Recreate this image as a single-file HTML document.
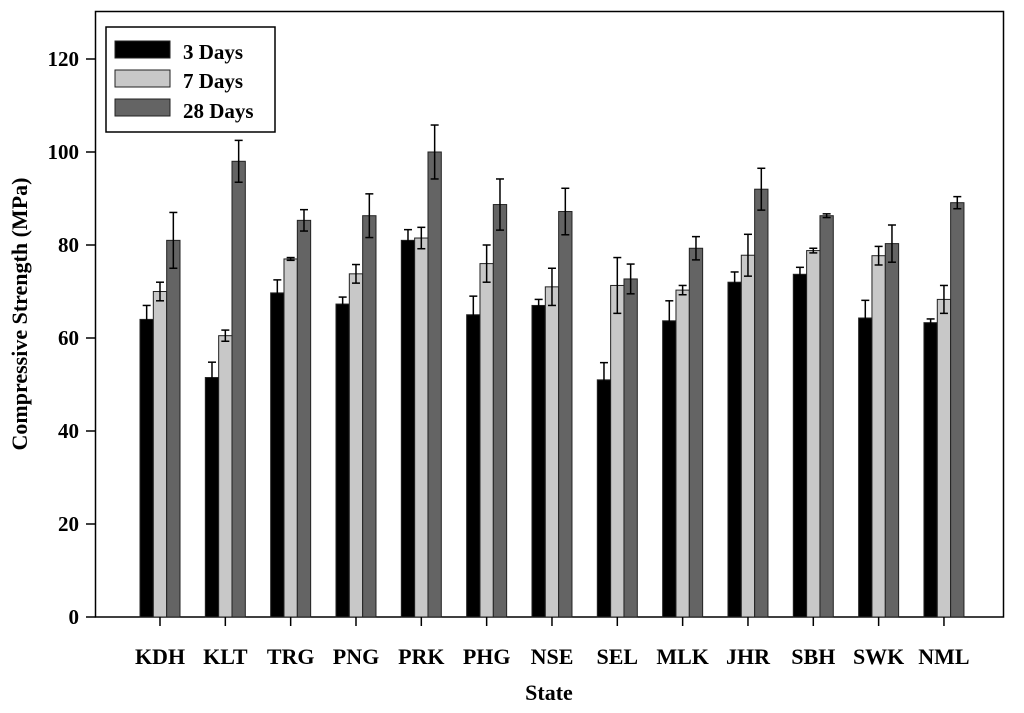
<!DOCTYPE html>
<html><head><meta charset="utf-8"><style>
body{margin:0;background:#fff;}
svg{display:block;font-family:"Liberation Serif",serif;font-weight:bold;}
</style></head><body>
<svg id="chart" width="1024" height="713" viewBox="0 0 1024 713" xmlns="http://www.w3.org/2000/svg">
<rect x="95.5" y="11.5" width="908" height="605.5" fill="none" stroke="#000" stroke-width="1.5"/>
<g id="marks"></g>
<g id="axes"></g>
<g>
<rect x="106" y="27" width="169" height="105" fill="#fff" stroke="#000" stroke-width="1.5"/>
<rect x="115" y="41" width="55" height="17" fill="#000" stroke="#222"/>
<text x="183" y="59" font-size="21">3 Days</text>
<rect x="115" y="70" width="55" height="17" fill="#c8c8c8" stroke="#222"/>
<text x="183" y="88" font-size="21">7 Days</text>
<rect x="115" y="99" width="55" height="17" fill="#646464" stroke="#222"/>
<text x="183" y="118" font-size="21">28 Days</text>
</g>
<text transform="translate(27,314) rotate(-90)" text-anchor="middle" font-size="22">Compressive Strength (MPa)</text>
<text x="549" y="700" text-anchor="middle" font-size="22">State</text>
</svg>
<script>
const categories=["KDH","KLT","TRG","PNG","PRK","PHG","NSE","SEL","MLK","JHR","SBH","SWK","NML"];
const days3=[64,51.5,69.7,67.3,81,65,67,51,63.7,72,73.7,64.3,63.3];
const days3Err=[3,3.3,2.8,1.5,2.3,4,1.3,3.7,4.3,2.2,1.5,3.8,0.8];
const days7=[70,60.5,77,73.8,81.5,76,71,71.3,70.3,77.8,78.8,77.7,68.3];
const days7Err=[2,1.2,0.3,2,2.3,4,4,6,1,4.5,0.5,2,3];
const days28=[81,98,85.3,86.3,100,88.7,87.2,72.7,79.3,92,86.3,80.3,89.1];
const days28Err=[6,4.5,2.3,4.7,5.8,5.5,5,3.2,2.5,4.5,0.4,4,1.3];
const yTicks=[0,20,40,60,80,100,120];
const NS="http://www.w3.org/2000/svg";
const y0=617,pxPerUnit=4.65;
function yScale(v){return y0-v*pxPerUnit;}
function xScale(i){return 160+i*65.33;}
function mk(tag,attrs,parent){const e=document.createElementNS(NS,tag);for(const k in attrs)e.setAttribute(k,attrs[k]);parent.appendChild(e);return e;}
const marks=document.getElementById('marks'),axes=document.getElementById('axes');
const series=[[days3,days3Err,"#000","3-days",-20],[days7,days7Err,"#c8c8c8","7-days",-6.67],[days28,days28Err,"#646464","28-days",6.67]];
const bw=13.33;
categories.forEach((c,i)=>{
  series.forEach(s=>{
    const v=s[0][i],err=s[1][i],x=xScale(i)+s[4];
    const r=mk('rect',{x:x,y:yScale(v),width:bw,height:y0-yScale(v),fill:s[2],stroke:"#222","stroke-width":1},marks);
    
    
    const cx=x+bw/2;
    const g=mk('g',{stroke:"#000","stroke-width":1.5,fill:"none"},marks);
    
    
    mk('line',{x1:cx,x2:cx,y1:yScale(v-err),y2:yScale(v+err)},g);
    mk('line',{x1:cx-4,x2:cx+4,y1:yScale(v+err),y2:yScale(v+err)},g);
    mk('line',{x1:cx-4,x2:cx+4,y1:yScale(v-err),y2:yScale(v-err)},g);
  });
  const t=mk('line',{x1:xScale(i),x2:xScale(i),y1:y0,y2:y0+9,stroke:"#000","stroke-width":1.5},axes);
  
  
  const l=mk('text',{x:xScale(i),y:y0+47,"text-anchor":"middle","font-size":22},axes);
  l.textContent=c;
  
  
});
yTicks.forEach(v=>{
  const t=mk('line',{x1:86,x2:95.5,y1:yScale(v),y2:yScale(v),stroke:"#000","stroke-width":1.5},axes);
  
  
  const l=mk('text',{x:79,y:yScale(v)+7,"text-anchor":"end","font-size":21},axes);
  l.textContent=v;
  
  
});
</script>
</body></html>
